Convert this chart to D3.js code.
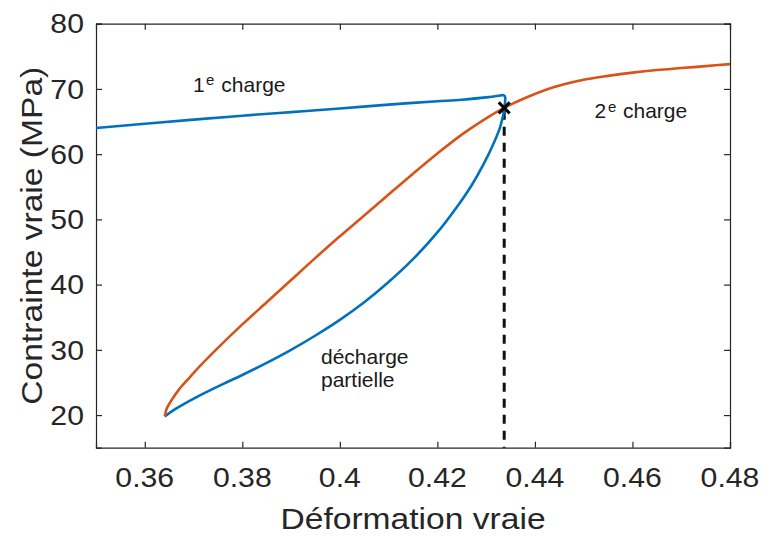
<!DOCTYPE html>
<html><head><meta charset="utf-8">
<script src="https://cdn.jsdelivr.net/npm/d3@7"></script>
<style>body{margin:0;background:#fff}svg{display:block}</style>
</head><body>
<svg id="c" width="763" height="536"></svg>
<script>
// ---- data ----
const firstLoadX = [0.3500,0.3600,0.3700,0.3800,0.3900,0.4000,0.4100,0.4200,0.4250,0.4300,0.4325,0.4333,0.4337,0.4339,0.4339,0.4338,0.4335,0.4328,0.4315,0.4295,0.4270,0.4240,0.4200,0.4150,0.4100,0.4050,0.4000,0.3950,0.3900,0.3850,0.3800,0.3760,0.3720,0.3690,0.3660,0.3641];
const firstLoadY = [64.0,64.65,65.3,65.9,66.45,67.0,67.6,68.1,68.35,68.7,68.95,69.05,69.0,68.7,68.2,67.4,66.0,64.0,61.6,58.5,55.2,51.9,48.0,43.9,40.4,37.3,34.6,32.2,30.0,28.0,26.15,24.75,23.3,22.1,20.8,19.8];
const secondLoadX = [0.3641,0.3645,0.3655,0.3670,0.3690,0.3713,0.3750,0.3800,0.3850,0.3900,0.3950,0.4000,0.4050,0.4100,0.4150,0.4200,0.4250,0.4300,0.4337,0.4380,0.4420,0.4460,0.4500,0.4550,0.4600,0.4650,0.4700,0.4750,0.4800];
const secondLoadY = [19.8,21.0,22.3,23.9,25.6,27.5,30.3,33.9,37.3,40.7,44.1,47.4,50.6,53.8,57.0,60.1,63.0,65.5,67.1,68.6,69.8,70.7,71.4,72.0,72.5,72.9,73.2,73.5,73.8];
const reloadPointX = [0.4337];
const reloadPointY = [67.1];
const xTickValues = [0.36,0.38,0.40,0.42,0.44,0.46,0.48];
const xTickLabels = ["0.36","0.38","0.4","0.42","0.44","0.46","0.48"];
const yTickValues = [20,30,40,50,60,70,80];
const yTickLabels = ["20","30","40","50","60","70","80"];
const xDomain = [0.35,0.48];
const yDomain = [15,80];
const xTitle = "Déformation vraie";
const yTitle = "Contrainte vraie (MPa)";
// annotation parts: text, data x, data y (baseline), font size
const annotations = [
  {t:"1", x:0.36990, y:69.58, s:21},
  {t:"e", x:0.37256, y:70.60, s:15},
  {t:"charge", x:0.37570, y:69.58, s:21},
  {t:"2", x:0.45222, y:65.49, s:21},
  {t:"e", x:0.45498, y:66.50, s:15},
  {t:"charge", x:0.45806, y:65.49, s:21},
  {t:"décharge", x:0.39613, y:27.76, s:21},
  {t:"partielle", x:0.39613, y:24.28, s:21}
];

// ---- layout ----
const W = 763, H = 536;
const m = {l:96, r:33, t:23.7, b:88.3};
const svg = d3.select("#c");
const x = d3.scaleLinear().domain(xDomain).range([m.l, W - m.r]);
const y = d3.scaleLinear().domain(yDomain).range([H - m.b, m.t]);
const axisColor = "#262626";
const font = "'Liberation Sans', Arial, Helvetica, sans-serif";
const stretch = 1.12;

function label(g, txt, px, py, opts) {
  const o = Object.assign({size:27, anchor:"start", rot:0, sx:stretch, fill:axisColor}, opts||{});
  const gg = g.append("g").attr("transform", `translate(${px},${py}) rotate(${o.rot}) scale(${o.sx},1)`);
  return gg.append("text").attr("x",0).attr("y",0)
    .attr("font-family", font).attr("font-size", o.size)
    .attr("text-anchor", o.anchor).attr("fill", o.fill).text(txt);
}

// ---- axes (ticks inside, box) ----
const gAxes = svg.append("g");
const tickLen = 6;
gAxes.append("g").attr("transform", `translate(0,${y(yDomain[0])})`)
  .call(d3.axisBottom(x).tickValues(xTickValues).tickSize(-tickLen).tickFormat(""));
gAxes.append("g").attr("transform", `translate(0,${y(yDomain[1])})`)
  .call(d3.axisTop(x).tickValues(xTickValues).tickSize(-tickLen).tickFormat(""));
gAxes.append("g").attr("transform", `translate(${x(xDomain[0])},0)`)
  .call(d3.axisLeft(y).tickValues(yTickValues).tickSize(-tickLen).tickFormat(""));
gAxes.append("g").attr("transform", `translate(${x(xDomain[1])},0)`)
  .call(d3.axisRight(y).tickValues(yTickValues).tickSize(-tickLen).tickFormat(""));
gAxes.selectAll(".domain").attr("stroke", axisColor).attr("stroke-width", 1.2);
gAxes.selectAll(".tick line").attr("stroke", axisColor).attr("stroke-width", 1.2);

// tick labels
const gLab = svg.append("g");
xTickValues.forEach((v,i) => label(gLab, xTickLabels[i], x(v), y(yDomain[0]) + 39.6, {anchor:"middle"}));
yTickValues.forEach((v,i) => label(gLab, yTickLabels[i], x(xDomain[0]) - 12, y(v) + 9.7, {anchor:"end"}));

// axis titles
label(gLab, xTitle, (x(xDomain[0]) + x(xDomain[1]))/2, 529, {size:30, anchor:"middle"});
label(gLab, yTitle, 42, (y(yDomain[0]) + y(yDomain[1]))/2, {size:30, anchor:"middle", rot:-90});

// ---- data lines ----
const line = d3.line().x(d => x(d[0])).y(d => y(d[1])).curve(d3.curveCatmullRom.alpha(0.5));
const blue = firstLoadX.map((v,i) => [v, firstLoadY[i]]);
const orange = secondLoadX.map((v,i) => [v, secondLoadY[i]]);

svg.append("line")
  .attr("x1", x(reloadPointX[0])).attr("x2", x(reloadPointX[0]))
  .attr("y1", y(reloadPointY[0]) + 3).attr("y2", y(yDomain[0]))
  .attr("stroke", "#111").attr("stroke-width", 3).attr("stroke-dasharray", "9,7");

svg.append("path").attr("d", line(blue)).attr("fill","none")
  .attr("stroke","#0072BD").attr("stroke-width",2.6).attr("stroke-linejoin","round");
svg.append("path").attr("d", line(orange)).attr("fill","none")
  .attr("stroke","#D95319").attr("stroke-width",2.6).attr("stroke-linejoin","round");

// X marker
const mk = svg.append("g").attr("transform", `translate(${x(reloadPointX[0])},${y(reloadPointY[0])})`);
const ms = 5.5;
mk.append("line").attr("x1",-ms).attr("y1",-ms).attr("x2",ms).attr("y2",ms).attr("stroke","#000").attr("stroke-width",3);
mk.append("line").attr("x1",-ms).attr("y1",ms).attr("x2",ms).attr("y2",-ms).attr("stroke","#000").attr("stroke-width",3);

// annotations
const gAnn = svg.append("g");
annotations.forEach(a => label(gAnn, a.t, x(a.x), y(a.y), {size:a.s, sx:1, fill:"#1a1a1a"}));
</script>
</body></html>
